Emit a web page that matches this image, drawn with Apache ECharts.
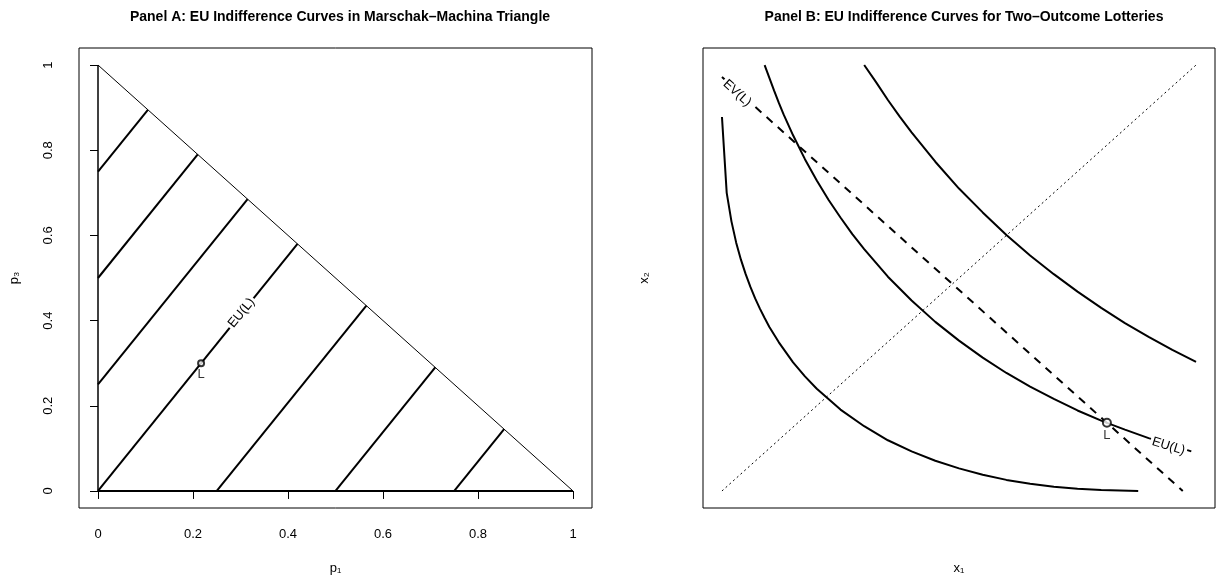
<!DOCTYPE html>
<html>
<head>
<meta charset="utf-8">
<script src="https://cdn.jsdelivr.net/npm/echarts@6/dist/echarts.min.js"></script>
<style>
  html, body { margin: 0; padding: 0; background: #fff; }
  #chart { width: 1216px; height: 581px; }
</style>
</head>
<body>
<div id="chart"></div>
<script>
// tick values for panel A
const ticksA = [0, 0.2, 0.4, 0.6, 0.8, 1]

// triangle edges
const edgeBottom = [[0, 0], [1, 0]]
const edgeLeft = [[0, 0], [0, 1]]
const edgeHyp = [[0, 1], [1, 0]]

// parallel EU lines inside the triangle
const euLinesA = [
    [[0, 0.75], [0.105, 0.895]],
    [[0, 0.5], [0.21, 0.79]],
    [[0, 0.25], [0.315, 0.685]],
    [[0, 0], [0.42, 0.58]],
    [[0.25, 0], [0.565, 0.435]],
    [[0.5, 0], [0.71, 0.29]],
    [[0.75, 0], [0.855, 0.145]]
]
const lotteryA = [0.217, 0.3]
const euLabelA = [0.302, 0.418]

// panel B curves (x1, x2)
const curveLow = [
    [0, 0.878], [0.01, 0.70], [0.02, 0.633], [0.03, 0.583], [0.04, 0.543], [0.05, 0.509],
    [0.06, 0.479], [0.07, 0.452], [0.08, 0.428], [0.09, 0.406], [0.1, 0.385], [0.12, 0.349],
    [0.15, 0.302], [0.175, 0.269], [0.2, 0.24], [0.25, 0.191], [0.3, 0.152], [0.35, 0.119],
    [0.4, 0.093], [0.45, 0.071], [0.5, 0.053], [0.55, 0.038], [0.6, 0.026], [0.65, 0.017],
    [0.7, 0.010], [0.75, 0.005], [0.8, 0.002], [0.878, 0]
]
const curveMid = [
    [0.09, 1.0], [0.1, 0.97], [0.11, 0.94], [0.12, 0.911], [0.13, 0.884], [0.15, 0.835],
    [0.175, 0.779], [0.2, 0.729], [0.225, 0.683], [0.25, 0.642], [0.275, 0.603], [0.3, 0.568],
    [0.35, 0.503], [0.4, 0.447], [0.45, 0.397], [0.5, 0.353], [0.55, 0.313], [0.6, 0.277],
    [0.65, 0.245], [0.7, 0.216], [0.75, 0.189], [0.8, 0.165], [0.812, 0.16], [0.85, 0.144],
    [0.9, 0.124], [0.97, 0.1], [0.99, 0.093]
]
const curveHigh = [
    [0.3, 1.0], [0.325, 0.96], [0.35, 0.918], [0.375, 0.879], [0.4, 0.842], [0.45, 0.773],
    [0.5, 0.71], [0.55, 0.654], [0.6, 0.601], [0.65, 0.553], [0.7, 0.509], [0.75, 0.468],
    [0.8, 0.43], [0.85, 0.394], [0.9, 0.362], [0.95, 0.331], [1.0, 0.303]
]
const evLine = [[0, 0.972], [0.972, 0]]
const diagLine = [[0, 0], [1, 1]]
const lotteryB = [0.812, 0.16]
const evLabelB = [0.032, 0.934]
const euLabelB = [0.942, 0.105]

const font = 'Liberation Sans, Arial, Helvetica, sans-serif'

const lineSeries = (data, idx, width, type) => ({
    type: 'line',
    xAxisIndex: idx,
    yAxisIndex: idx,
    data: data,
    showSymbol: false,
    symbol: 'none',
    silent: true,
    lineStyle: { color: '#000', width: width, type: type || 'solid', cap: 'butt' },
    z: 2
})

// text sitting on a line, white box hides the line under it
const textSeries = (pt, idx, text, rotate) => ({
    type: 'scatter',
    xAxisIndex: idx,
    yAxisIndex: idx,
    data: [pt],
    symbolSize: 0,
    itemStyle: { color: '#000' },
    silent: true,
    z: 5,
    label: {
        show: true,
        position: 'inside',
        formatter: text,
        rotate: rotate,
        color: '#000',
        opacity: 1,
        textBorderWidth: 0,
        fontSize: 13,
        fontFamily: font,
        backgroundColor: '#fff',
        padding: [0, 2]
    }
})

const pointSeries = (pt, idx, size, width) => ({
    type: 'scatter',
    xAxisIndex: idx,
    yAxisIndex: idx,
    data: [pt],
    symbol: 'emptyCircle',
    symbolSize: size,
    itemStyle: { color: '#000', borderColor: '#000', borderWidth: width },
    silent: true,
    z: 6,
    label: {
        show: true,
        position: 'bottom',
        distance: 1,
        formatter: 'L',
        color: '#000',
        textBorderWidth: 0,
        fontSize: 13,
        fontFamily: font
    }
})

const series = []
series.push(lineSeries(edgeBottom, 0, 2))
series.push(lineSeries(edgeLeft, 0, 1.5))
series.push(lineSeries(edgeHyp, 0, 1))
euLinesA.forEach(seg => series.push(lineSeries(seg, 0, 2)))
series.push(textSeries(euLabelA, 0, 'EU(L)', 51))
series.push(pointSeries(lotteryA, 0, 6, 1))

series.push(lineSeries(diagLine, 1, 1, [2, 3]))
series.push(lineSeries(curveLow, 1, 2))
series.push(lineSeries(curveMid, 1, 2))
series.push(lineSeries(curveHigh, 1, 2))
series.push(lineSeries(evLine, 1, 2, [8, 7]))
series.push(textSeries(evLabelB, 1, 'EV(L)', -42))
series.push(textSeries(euLabelB, 1, 'EU(L)', -17))
series.push(pointSeries(lotteryB, 1, 8, 2))

const nameStyle = { color: '#000', fontSize: 13, fontFamily: font }

const chart = echarts.init(document.getElementById('chart'))
chart.setOption({
    animation: false,
    backgroundColor: '#fff',
    title: [
        {
            text: 'Panel A: EU Indifference Curves in Marschak\u2013Machina Triangle',
            left: 335, top: 5, textAlign: 'center',
            textStyle: { fontSize: 14, fontWeight: 'bold', fontFamily: font, color: '#000' }
        },
        {
            text: 'Panel B: EU Indifference Curves for Two\u2013Outcome Lotteries',
            left: 959, top: 5, textAlign: 'center',
            textStyle: { fontSize: 14, fontWeight: 'bold', fontFamily: font, color: '#000' }
        }
    ],
    grid: [
        { left: 79, top: 48, width: 513, height: 460, show: true, borderColor: '#000', borderWidth: 1, backgroundColor: 'transparent' },
        { left: 703, top: 48, width: 512, height: 460, show: true, borderColor: '#000', borderWidth: 1, backgroundColor: 'transparent' }
    ],
    xAxis: [
        {
            type: 'value', gridIndex: 0, min: -0.04, max: 1.04,
            name: 'p\u2081', nameLocation: 'middle', nameGap: 54, nameTextStyle: nameStyle,
            splitLine: { show: false },
            axisLine: { show: false },
            axisTick: { show: true, inside: false, length: 8, customValues: ticksA, lineStyle: { color: '#000' } },
            axisLabel: { show: true, margin: 20, customValues: ticksA, color: '#000', fontSize: 13, fontFamily: font }
        },
        {
            type: 'value', gridIndex: 1, min: -0.04, max: 1.04,
            name: 'x\u2081', nameLocation: 'middle', nameGap: 54, nameTextStyle: nameStyle,
            splitLine: { show: false }, axisLine: { show: false },
            axisTick: { show: false }, axisLabel: { show: false }
        }
    ],
    yAxis: [
        {
            type: 'value', gridIndex: 0, min: -0.04, max: 1.04,
            name: 'p\u2083', nameLocation: 'middle', nameGap: 58, nameRotate: 90, nameTextStyle: nameStyle,
            splitLine: { show: false },
            axisLine: { show: false },
            axisTick: { show: true, inside: false, length: 8, customValues: ticksA, lineStyle: { color: '#000' } },
            axisLabel: { show: true, margin: 24, rotate: 90, customValues: ticksA, color: '#000', fontSize: 13, fontFamily: font }
        },
        {
            type: 'value', gridIndex: 1, min: -0.04, max: 1.04,
            name: 'x\u2082', nameLocation: 'middle', nameGap: 52, nameRotate: 90, nameTextStyle: nameStyle,
            splitLine: { show: false }, axisLine: { show: false },
            axisTick: { show: false }, axisLabel: { show: false }
        }
    ],
    series: series
})
</script>
</body>
</html>
